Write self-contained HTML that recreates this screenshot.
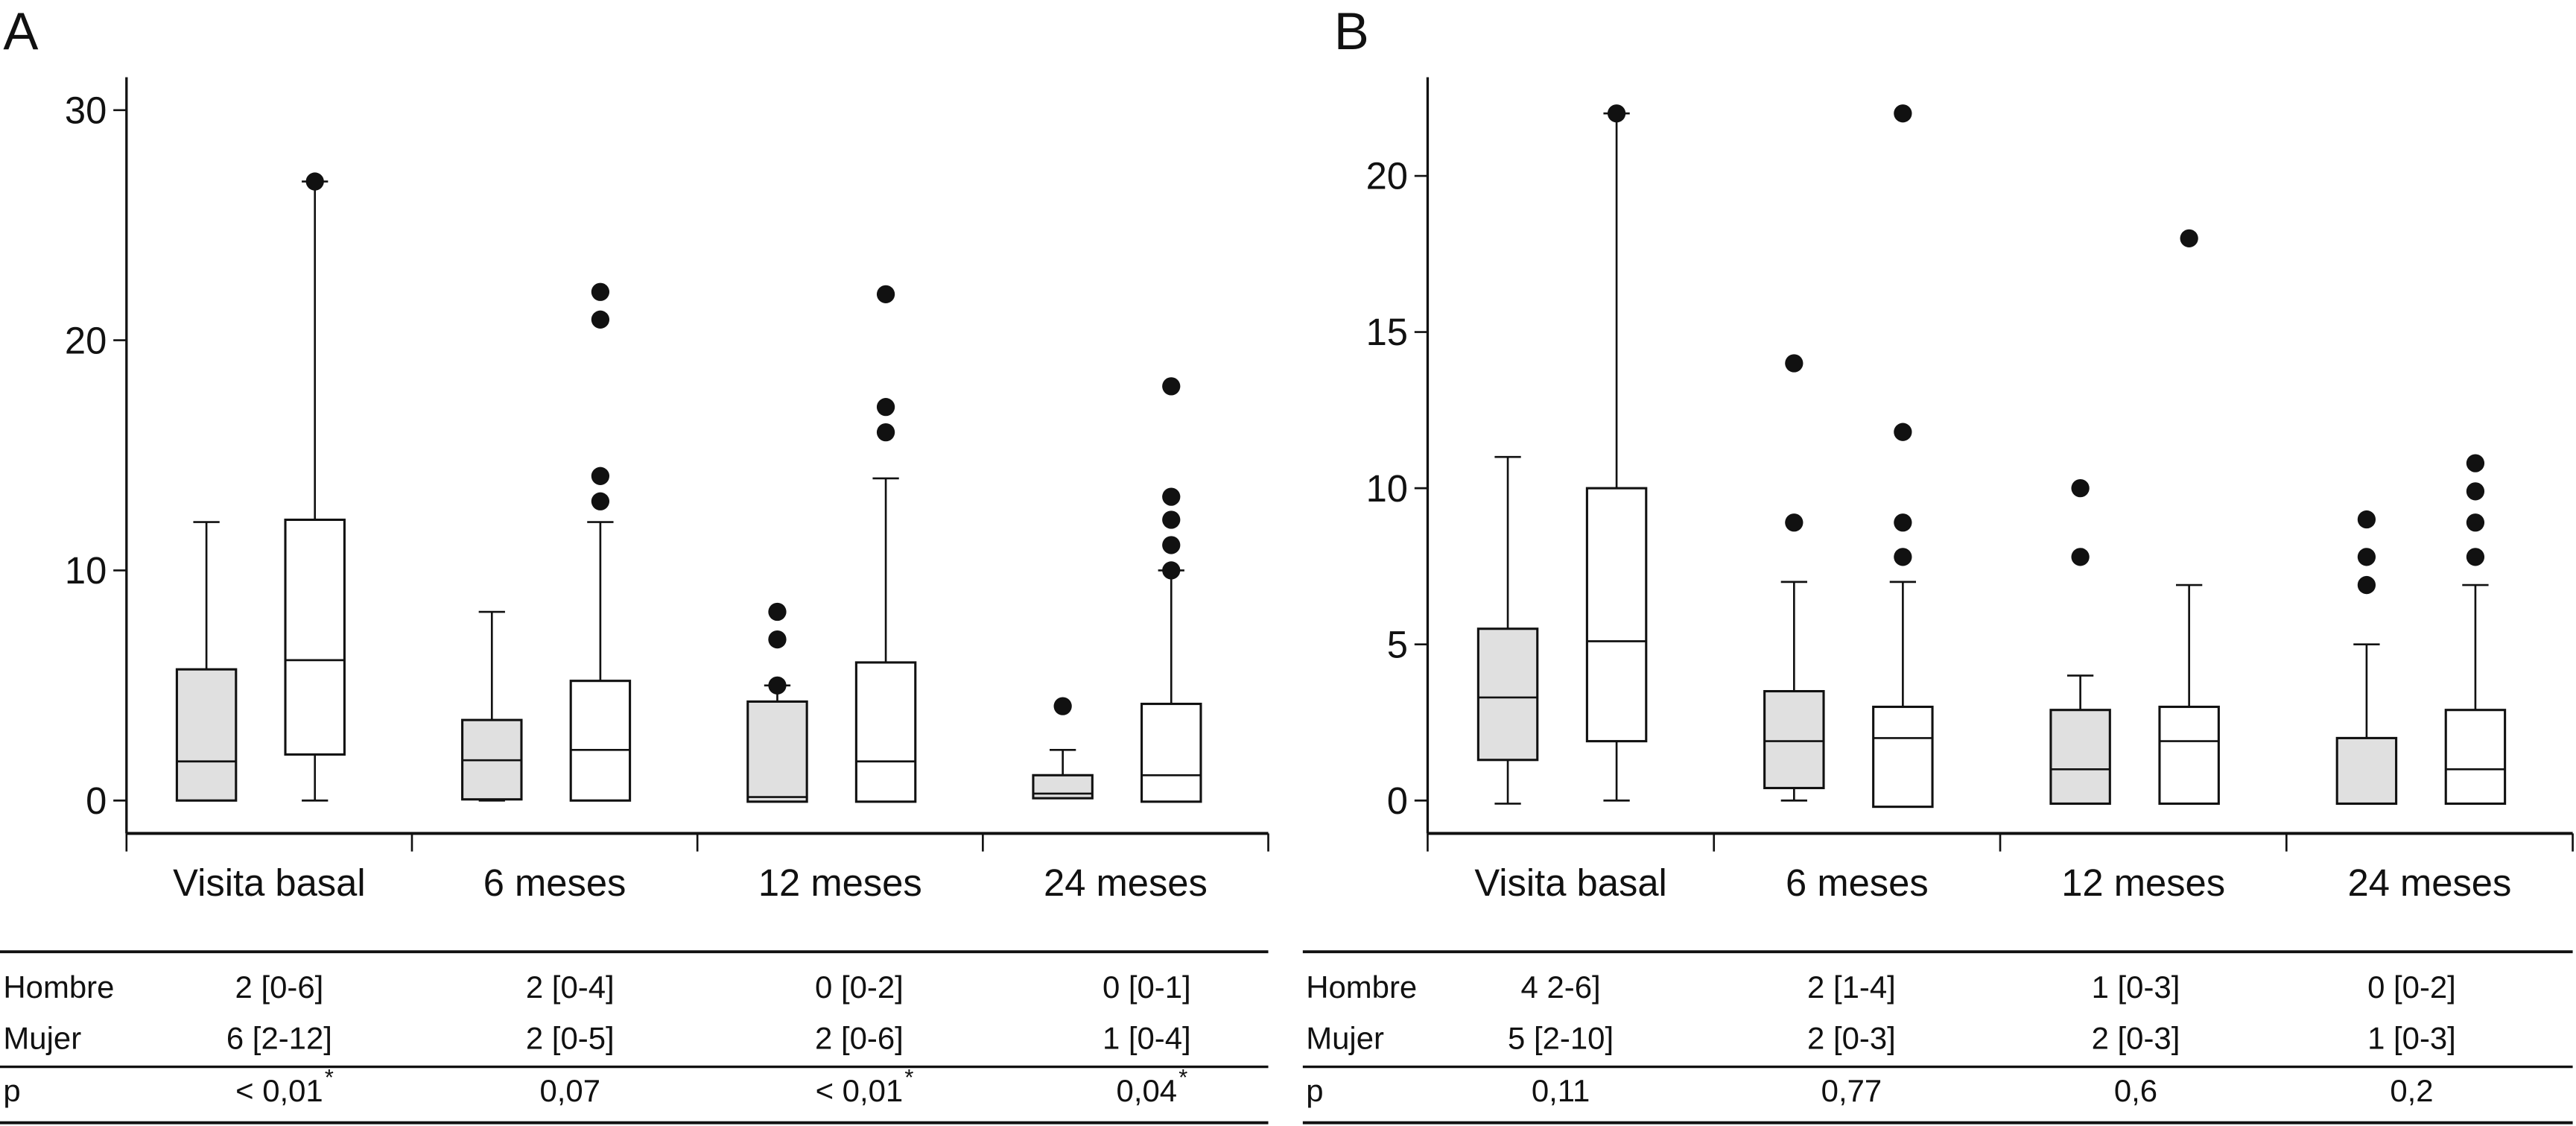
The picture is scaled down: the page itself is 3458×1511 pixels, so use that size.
<!DOCTYPE html>
<html><head><meta charset="utf-8"><style>
html,body{margin:0;padding:0;background:#fff}
svg{display:block}
text{font-family:"Liberation Sans",sans-serif;fill:#111}
</style></head><body>
<svg id="chart" width="3458" height="1511" viewBox="0 0 1568 685" preserveAspectRatio="none" xmlns="http://www.w3.org/2000/svg"></svg>
<script>
const categories = ["Visita basal","6 meses","12 meses","24 meses"];
// Panel A: [min, q1, median, q3, max]
const aHombre = [[0,0,1.7,5.7,12.1],[0,0.05,1.75,3.5,8.2],[0,-0.05,0.15,4.3,5.0],[0.1,0.1,0.3,1.1,2.2]];
const aMujer  = [[0,2,6.1,12.2,26.9],[0,0,2.2,5.2,12.1],[-0.05,-0.05,1.7,6.0,14.0],[-0.05,-0.05,1.1,4.2,10.0]];
const aHombreOut = [[],[],[5.0,7.0,8.2],[4.1]];
const aMujerOut  = [[26.9],[22.1,20.9,14.1,13.0],[22.0,17.1,16.0],[10.0,11.1,12.2,13.2,18.0]];
const aTicks = [0,10,20,30];
// Panel B
const bHombre = [[-0.1,1.3,3.3,5.5,11.0],[0,0.4,1.9,3.5,7.0],[-0.1,-0.1,1.0,2.9,4.0],[-0.1,-0.1,-0.1,2.0,5.0]];
const bMujer  = [[0,1.9,5.1,10.0,22.0],[-0.2,-0.2,2.0,3.0,7.0],[-0.1,-0.1,1.9,3.0,6.9],[-0.1,-0.1,1.0,2.9,6.9]];
const bHombreOut = [[],[8.9,14.0],[7.8,10.0],[6.9,7.8,9.0]];
const bMujerOut  = [[22.0],[7.8,8.9,11.8,22.0],[18.0],[7.8,8.9,9.9,10.8]];
const bTicks = [0,5,10,15,20];
// Tables
const tableARows = [["Hombre","2 [0-6]","2 [0-4]","0 [0-2]","0 [0-1]"],["Mujer","6 [2-12]","2 [0-5]","2 [0-6]","1 [0-4]"]];
const tableAP = ["< 0,01","0,07","< 0,01","0,04"];
const tableAStar = [true,false,true,true];
const tableBRows = [["Hombre","4 2-6]","2 [1-4]","1 [0-3]","0 [0-2]"],["Mujer","5 [2-10]","2 [0-3]","2 [0-3]","1 [0-3]"]];
const tableBP = ["0,11","0,77","0,6","0,2"];

const NS="http://www.w3.org/2000/svg";
const svg=document.getElementById('chart');
function el(tag,attrs,parent,text){const e=document.createElementNS(NS,tag);for(const k in attrs)e.setAttribute(k,attrs[k]);if(text!==undefined)e.textContent=text;(parent||svg).appendChild(e);return e;}

function panel(cfg){
  const g=el('g',{});
  
  
  const y=v=>cfg.y0-(v)*cfg.k;
  const t=el('text',{x:cfg.letterX,y:30,'font-size':32},g,cfg.letter);
  
  
  // y axis
  const ya=el('line',{x1:cfg.ax,y1:47,x2:cfg.ax,y2:507,stroke:'#111','stroke-width':1.5},g);
  
  
  cfg.ticks.forEach(v=>{
    el('line',{x1:cfg.ax-8,y1:y(v),x2:cfg.ax,y2:y(v),stroke:'#111','stroke-width':1.2},g);
    const tl=el('text',{x:cfg.ax-12,y:y(v)+8,'font-size':23,'text-anchor':'end'},g,String(v));
    
    
  });
  // x axis
  const xa=el('line',{x1:cfg.ax,y1:507,x2:cfg.axEnd,y2:507,stroke:'#111','stroke-width':1.8},g);
  
  
  const gw=(cfg.axEnd-cfg.ax)/categories.length;
  for(let i=0;i<=categories.length;i++){el('line',{x1:cfg.ax+i*gw,y1:507,x2:cfg.ax+i*gw,y2:518,stroke:'#111','stroke-width':1.2},g);}
  categories.forEach((c,i)=>{
    const cx=cfg.ax+(i+0.5)*gw;
    const lt=el('text',{x:cx,y:545,'font-size':23,'text-anchor':'middle'},g,c);
    
    
    drawBox(g,cx-gw*0.22,cfg.h[i],cfg.hOut[i],'#e0e0e0',y,'box-hombre');
    drawBox(g,cx+gw*0.16,cfg.m[i],cfg.mOut[i],'#fff',y,'box-mujer');
  });
}
function drawBox(g,cx,s,outs,fill,y,name){
  const w=36;
  const bg=el('g',{},g);
  
  
  const [mn,q1,md,q3,mx]=s;
  el('line',{x1:cx,y1:y(q3),x2:cx,y2:y(mx),stroke:'#111','stroke-width':1.2},bg);
  el('line',{x1:cx-8,y1:y(mx),x2:cx+8,y2:y(mx),stroke:'#111','stroke-width':1.2},bg);
  if(mn<q1-0.01){el('line',{x1:cx,y1:y(q1),x2:cx,y2:y(mn),stroke:'#111','stroke-width':1.2},bg);el('line',{x1:cx-8,y1:y(mn),x2:cx+8,y2:y(mn),stroke:'#111','stroke-width':1.2},bg);}
  el('rect',{x:cx-w/2,y:y(q3),width:w,height:Math.max(1,y(q1)-y(q3)),fill:fill,stroke:'#111','stroke-width':1.4},bg);
  el('line',{x1:cx-w/2,y1:y(md),x2:cx+w/2,y2:y(md),stroke:'#111','stroke-width':1.2},bg);
  outs.forEach(v=>{
    const c=el('circle',{cx:cx,cy:y(v),r:5.5,fill:'#111'},bg);
    
    
  });
}
function table(cfg){
  const g=el('g',{});
  
  
  [[579,1.8],[649,1.5],[683,1.8]].forEach(([yy,sw])=>el('line',{x1:cfg.x0,y1:yy,x2:cfg.x1,y2:yy,stroke:'#111','stroke-width':sw},g));
  cfg.rows.forEach((r,ri)=>{
    const yy=[607,638][ri];
    const lab=el('text',{x:cfg.x0+2,y:yy,'font-size':19},g,r[0]);
    
    
    for(let i=1;i<r.length;i++){
      const c=el('text',{x:cfg.cols[i-1],y:yy,'font-size':19,'text-anchor':'middle'},g,r[i]);
      
      
    }
  });
  const pl=el('text',{x:cfg.x0+2,y:670,'font-size':19},g,'p');
  
  
  cfg.p.forEach((v,i)=>{
    const c=el('text',{x:cfg.cols[i],y:670,'font-size':19,'text-anchor':'middle'},g,v);
    
    
    if(cfg.star&&cfg.star[i]){const bb=c.getBBox();el('text',{x:bb.x+bb.width+1,y:660,'font-size':14},g,'*');}
  });
}
panel({name:'panel-a',letter:'A',letterX:2,ax:77,axEnd:772,y0:487,k:14,ticks:aTicks,h:aHombre,m:aMujer,hOut:aHombreOut,mOut:aMujerOut});
panel({name:'panel-b',letter:'B',letterX:812,ax:869,axEnd:1566,y0:487,k:19,ticks:bTicks,h:bHombre,m:bMujer,hOut:bHombreOut,mOut:bMujerOut});
table({name:'table-a',x0:0,x1:772,cols:[170,347,523,698],rows:tableARows,p:tableAP,star:tableAStar});
table({name:'table-b',x0:793,x1:1566,cols:[950,1127,1300,1468],rows:tableBRows,p:tableBP});
</script>
</body></html>
